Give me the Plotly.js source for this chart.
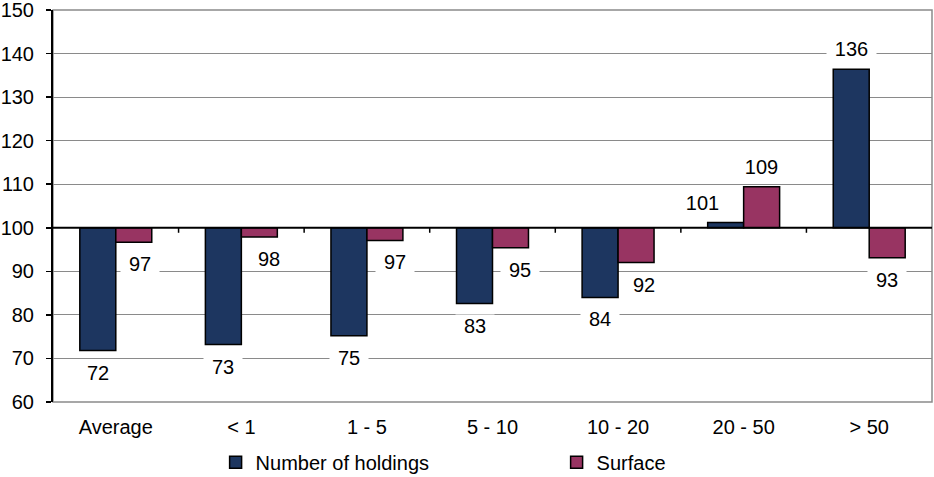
<!DOCTYPE html>
<html>
<head>
<meta charset="utf-8">
<script src="https://cdn.plot.ly/plotly-3.0.1.min.js"></script>
<style>html,body{margin:0;padding:0;background:#fff}#chart{width:934px;height:477px}</style>
</head>
<body>
<div id="chart"></div>
<script>
// ---- data ----
const categories = ['Average', '< 1', '1 - 5', '5 - 10', '10 - 20', '20 - 50', '> 50'];
const holdings = [71.8, 73.2, 75.2, 82.6, 84.0, 101.2, 136.4];
const surface = [96.7, 97.9, 97.1, 95.4, 92.0, 109.4, 93.1];
const holdingsLabels = ['72', '73', '75', '83', '84', '101', '136'];
const surfaceLabels = ['97', '98', '97', '95', '92', '109', '93'];
const seriesNames = ['Number of holdings', 'Surface'];
const baseline = 100;

// ---- styles ----
const FONT = 'Liberation Sans, Arial, sans-serif';
const FS = 20;
const navy = '#1d3660';
const plum = '#983462';
const grid = '#8a8a8a';
const holdShift = [0, 0, 0, 0, 0, -23, 0];
const surfShift = [6, 10, 10, 9, 8, 0, 0];

const traces = [
  {type: 'bar', name: seriesNames[0], x: categories, y: holdings.map(v => v - baseline), base: baseline,
   marker: {color: navy, line: {color: '#000', width: 1.5}}, hoverinfo: 'none'},
  {type: 'bar', name: seriesNames[1], x: categories, y: surface.map(v => v - baseline), base: baseline,
   marker: {color: plum, line: {color: '#000', width: 1.5}}, hoverinfo: 'none'}
];

const annotations = [];
function addLabels(vals, labels, side, shifts) {
  vals.forEach((v, i) => {
    const up = v >= baseline;
    annotations.push({
      x: categories[i], y: v, xref: 'x', yref: 'y', text: labels[i], showarrow: false,
      xanchor: 'center', yanchor: 'middle', xshift: side * 18 + shifts[i], yshift: up ? 20 : -22,
      bgcolor: '#fff', width: labels[i].length * 11 + 16, borderpad: 0,
      font: {family: FONT, size: FS, color: '#000'}
    });
  });
}
addLabels(holdings, holdingsLabels, -1, holdShift);
addLabels(surface, surfaceLabels, 1, surfShift);

const shapes = [
  {type: 'rect', xref: 'paper', yref: 'paper', x0: 0, x1: 1, y0: 0, y1: 1, line: {color: grid, width: 1.5}, layer: 'below'},
  {type: 'line', xref: 'paper', yref: 'y', x0: 0, x1: 1, y0: baseline, y1: baseline, line: {color: '#000', width: 2}, layer: 'above'}
];
for (let i = 1; i < categories.length; i++) {
  shapes.push({type: 'line', xref: 'x', yref: 'y', ysizemode: 'pixel', yanchor: baseline,
    x0: i - 0.5, x1: i - 0.5, y0: 0, y1: -5, line: {color: '#000', width: 1.5}});
}

const layout = {
  width: 934, height: 477,
  margin: {l: 53, r: 2, t: 10, b: 75, autoexpand: false},
  paper_bgcolor: '#fff', plot_bgcolor: '#fff',
  font: {family: FONT, size: FS, color: '#000'},
  barmode: 'group', bargap: 0.427, bargroupgap: 0,
  xaxis: {type: 'category', showgrid: false, zeroline: false, showline: false,
    ticks: '', ticklabelstandoff: 11, tickfont: {family: FONT, size: FS, color: '#000'}},
  yaxis: {range: [60, 150], dtick: 10, tick0: 60, showgrid: true, gridcolor: grid, gridwidth: 1,
    zeroline: false, showline: true, linecolor: '#000', linewidth: 2, ticklabeloverflow: 'allow',
    ticks: 'outside', ticklen: 5, tickcolor: '#000', tickwidth: 1.5, ticklabelstandoff: 8,
    tickfont: {family: FONT, size: FS, color: '#000'}},
  showlegend: true,
  legend: {orientation: 'h', x: 0.185, xanchor: 'left', yref: 'container', y: 0.072, yanchor: 'top',
    entrywidth: 296, itemwidth: 30, font: {family: FONT, size: FS, color: '#000'}, bgcolor: 'rgba(0,0,0,0)'},
  annotations: annotations,
  shapes: shapes
};

Plotly.newPlot('chart', traces, layout, {displayModeBar: false, staticPlot: true});
</script>
</body>
</html>
